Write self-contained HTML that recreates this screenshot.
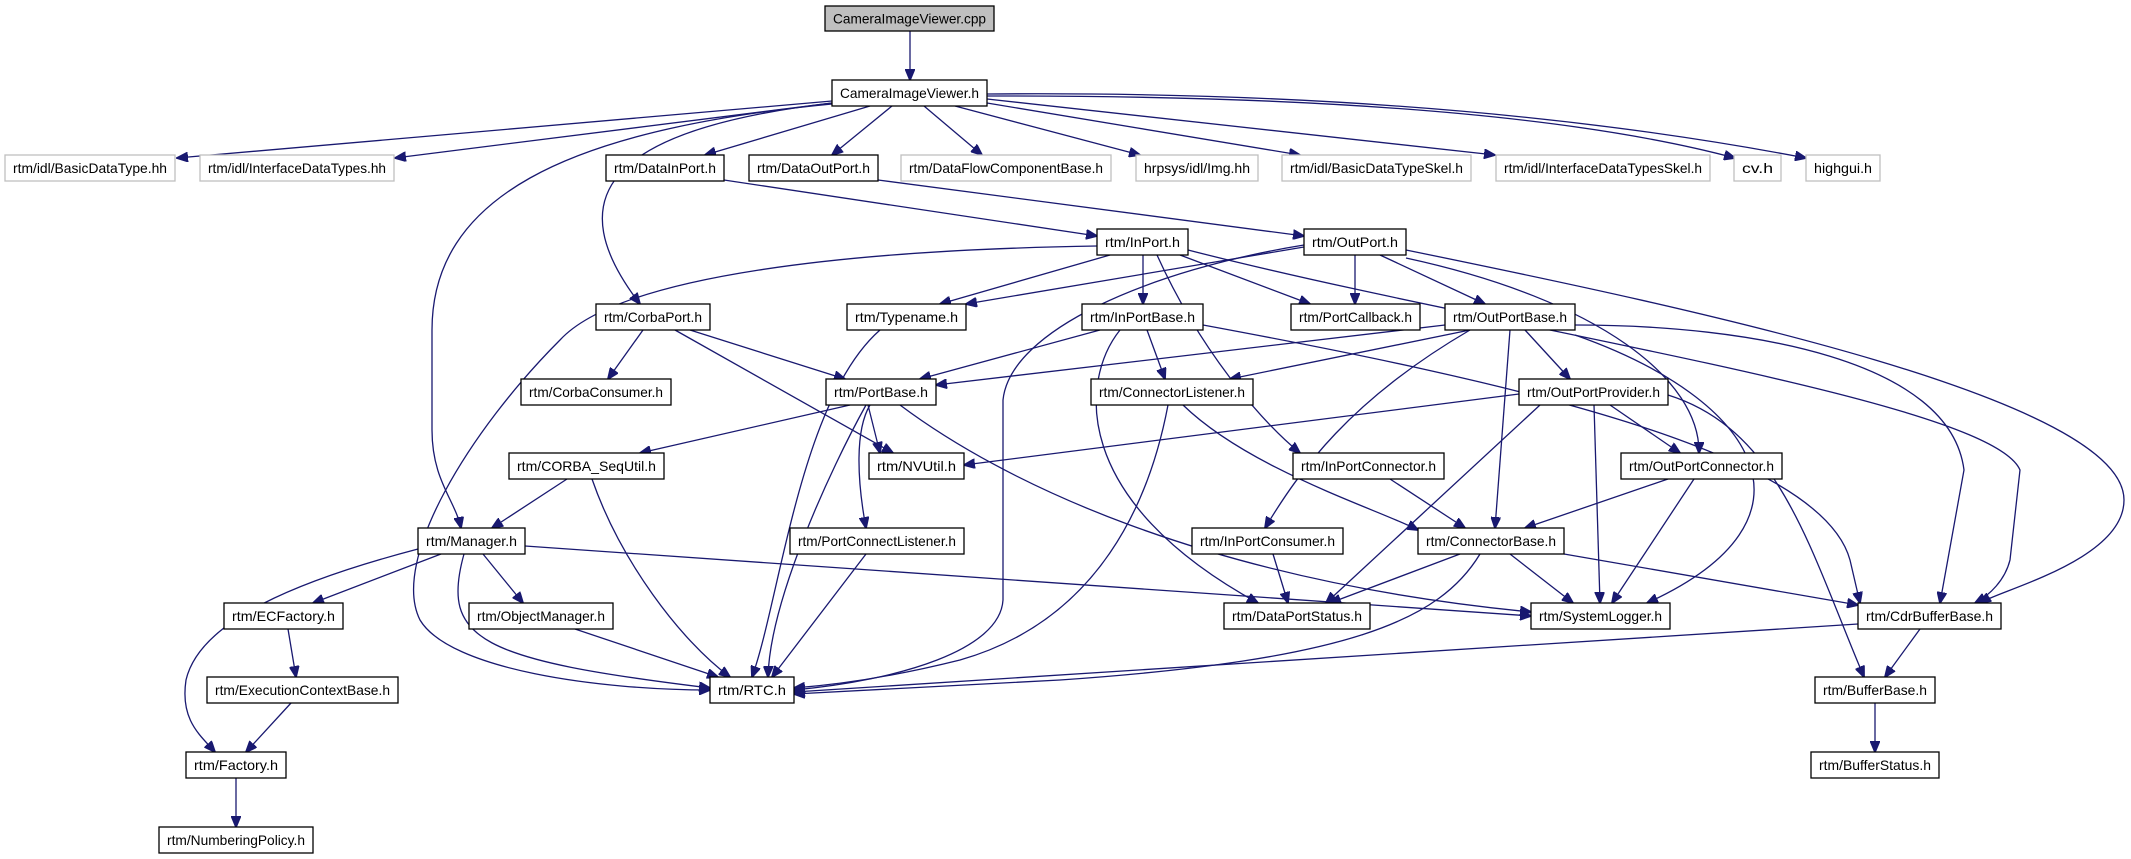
<!DOCTYPE html>
<html><head><meta charset="utf-8"><style>
html,body{margin:0;padding:0;background:#fff;}
svg{display:block;}
text{font-family:"Liberation Sans",sans-serif;font-size:14px;fill:#000;}
.e{fill:none;stroke:#191970;stroke-width:1.3;marker-end:url(#a);}
.n rect{fill:#fff;stroke:#000;stroke-width:1.3;}
.g rect{fill:#fff;stroke:#bfbfbf;stroke-width:1.3;}
</style></head><body>
<svg width="2131" height="859" viewBox="0 0 2131 859" xmlns="http://www.w3.org/2000/svg">
<defs><marker id="a" markerWidth="12" markerHeight="10" refX="11" refY="5" orient="auto" markerUnits="userSpaceOnUse"><path d="M0,0 L12,5 L0,10 z" fill="#191970" stroke="#191970"/></marker></defs>
<g>
<path class="e" d="M910,31 L910,80"/>
<path class="e" d="M832,101 L177,158"/>
<path class="e" d="M832,103 L395,158"/>
<path class="e" d="M870,106 L705,155"/>
<path class="e" d="M892,106 L832,155"/>
<path class="e" d="M924,106 L982,155"/>
<path class="e" d="M955,106 L1140,155"/>
<path class="e" d="M987,103 L1300,155"/>
<path class="e" d="M987,99 L1495,155"/>
<path class="e" d="M987,96 Q1500,95 1735,158"/>
<path class="e" d="M987,94 Q1450,90 1806,158"/>
<path class="e" d="M832,103 C600,130 560,200 640,304"/>
<path class="e" d="M832,104 C560,130 432,200 432,330 L432,430 C432,480 455,500 461,528"/>
<path class="e" d="M724,180 L1097,236"/>
<path class="e" d="M878,180 L1304,236"/>
<path class="e" d="M1110,255 L940,304"/>
<path class="e" d="M1304,247 L966,304"/>
<path class="e" d="M1180,255 L1310,304"/>
<path class="e" d="M1143,255 L1143,304"/>
<path class="e" d="M1157,255 C1200,350 1260,420 1300,453"/>
<path class="e" d="M1097,246 C850,250 620,275 560,340 C470,430 390,560 420,620 C450,670 600,690 710,690"/>
<path class="e" d="M1188,250 C1500,330 1990,400 2020,470 L2010,560 C2005,580 1990,595 1975,603"/>
<path class="e" d="M1355,255 L1355,304"/>
<path class="e" d="M1380,255 L1485,304"/>
<path class="e" d="M1406,258 C1600,300 1700,380 1699,453"/>
<path class="e" d="M1304,245 C1150,270 1010,330 1003,400 L1003,600 C1000,650 900,680 794,690"/>
<path class="e" d="M1406,250 C1700,310 2124,400 2124,500 C2124,560 2000,590 1980,603"/>
<path class="e" d="M1445,325 L936,385"/>
<path class="e" d="M1470,330 L1230,379"/>
<path class="e" d="M1525,330 L1570,379"/>
<path class="e" d="M1510,330 L1495,528"/>
<path class="e" d="M1470,330 C1350,400 1300,470 1265,528"/>
<path class="e" d="M1575,335 C1760,400 1830,520 1647,603"/>
<path class="e" d="M1575,325 C1750,325 1950,360 1964,470 L1940,603"/>
<path class="e" d="M1203,325 C1500,380 1820,450 1850,560 L1860,603"/>
<path class="e" d="M850,405 L640,453"/>
<path class="e" d="M868,405 L880,453"/>
<path class="e" d="M675,330 L893,453"/>
<path class="e" d="M870,405 C855,430 857,480 866,528"/>
<path class="e" d="M866,405 C830,470 770,600 768,677"/>
<path class="e" d="M900,405 C1000,480 1200,580 1531,612"/>
<path class="e" d="M525,546 L1531,616"/>
<path class="e" d="M643,330 L608,379"/>
<path class="e" d="M690,330 L845,379"/>
<path class="e" d="M880,330 C800,400 780,600 752,677"/>
<path class="e" d="M1100,330 L920,379"/>
<path class="e" d="M1147,330 L1165,379"/>
<path class="e" d="M1120,330 C1080,380 1070,500 1258,603"/>
<path class="e" d="M1183,405 C1250,470 1380,510 1418,530"/>
<path class="e" d="M1168,405 C1150,500 1100,620 960,660 C880,680 820,686 794,688"/>
<path class="e" d="M1519,394 L964,465"/>
<path class="e" d="M1610,405 L1680,453"/>
<path class="e" d="M1594,405 L1600,603"/>
<path class="e" d="M1540,405 L1326,603"/>
<path class="e" d="M1668,395 C1780,430 1810,550 1864,677"/>
<path class="e" d="M1390,479 L1465,528"/>
<path class="e" d="M1668,479 L1525,528"/>
<path class="e" d="M1694,479 L1612,603"/>
<path class="e" d="M567,479 L492,528"/>
<path class="e" d="M592,479 C620,560 680,640 730,677"/>
<path class="e" d="M441,554 L313,603"/>
<path class="e" d="M483,554 L523,603"/>
<path class="e" d="M464,554 C440,640 480,660 710,688"/>
<path class="e" d="M418,549 C300,580 200,620 186,680 C180,720 200,735 215,752"/>
<path class="e" d="M288,629 L296,677"/>
<path class="e" d="M291,703 L246,752"/>
<path class="e" d="M236,778 L236,827"/>
<path class="e" d="M575,629 L718,677"/>
<path class="e" d="M866,554 L772,677"/>
<path class="e" d="M1273,554 L1288,603"/>
<path class="e" d="M1460,554 L1330,603"/>
<path class="e" d="M1510,554 L1573,603"/>
<path class="e" d="M1564,554 L1858,605"/>
<path class="e" d="M1480,554 C1440,620 1350,660 1060,680 L794,694"/>
<path class="e" d="M1920,629 L1885,677"/>
<path class="e" d="M1858,624 L794,692"/>
<path class="e" d="M1875,703 L1875,752"/>
</g>
<g text-anchor="middle">
<g><rect x="825" y="6" width="169" height="25" fill="#bfbfbf" stroke="#000" stroke-width="1.3"/><text x="909.5" y="23.5" textLength="153" lengthAdjust="spacingAndGlyphs">CameraImageViewer.cpp</text></g>
<g class="n"><rect x="832" y="80" width="155" height="26"/><text x="909.5" y="98" textLength="139" lengthAdjust="spacingAndGlyphs">CameraImageViewer.h</text></g>
<g class="g"><rect x="5" y="155" width="170" height="26"/><text x="90" y="173" textLength="154" lengthAdjust="spacingAndGlyphs" fill="#000">rtm/idl/BasicDataType.hh</text></g>
<g class="g"><rect x="200" y="155" width="194" height="26"/><text x="297" y="173" textLength="178" lengthAdjust="spacingAndGlyphs">rtm/idl/InterfaceDataTypes.hh</text></g>
<g class="n"><rect x="606" y="155" width="118" height="26"/><text x="665" y="173" textLength="102" lengthAdjust="spacingAndGlyphs">rtm/DataInPort.h</text></g>
<g class="n"><rect x="749" y="155" width="129" height="26"/><text x="813.5" y="173" textLength="113" lengthAdjust="spacingAndGlyphs">rtm/DataOutPort.h</text></g>
<g class="g"><rect x="901" y="155" width="210" height="26"/><text x="1006" y="173" textLength="194" lengthAdjust="spacingAndGlyphs">rtm/DataFlowComponentBase.h</text></g>
<g class="g"><rect x="1136" y="155" width="122" height="26"/><text x="1197" y="173" textLength="106" lengthAdjust="spacingAndGlyphs">hrpsys/idl/Img.hh</text></g>
<g class="g"><rect x="1282" y="155" width="189" height="26"/><text x="1376.5" y="173" textLength="173" lengthAdjust="spacingAndGlyphs">rtm/idl/BasicDataTypeSkel.h</text></g>
<g class="g"><rect x="1496" y="155" width="214" height="26"/><text x="1603" y="173" textLength="198" lengthAdjust="spacingAndGlyphs">rtm/idl/InterfaceDataTypesSkel.h</text></g>
<g class="g"><rect x="1734" y="155" width="47" height="26"/><text x="1757.5" y="173" textLength="31" lengthAdjust="spacingAndGlyphs">cv.h</text></g>
<g class="g"><rect x="1806" y="155" width="74" height="26"/><text x="1843" y="173" textLength="58" lengthAdjust="spacingAndGlyphs">highgui.h</text></g>
<g class="n"><rect x="1097" y="229" width="91" height="26"/><text x="1142.5" y="247" textLength="75" lengthAdjust="spacingAndGlyphs">rtm/InPort.h</text></g>
<g class="n"><rect x="1304" y="229" width="102" height="26"/><text x="1355" y="247" textLength="86" lengthAdjust="spacingAndGlyphs">rtm/OutPort.h</text></g>
<g class="n"><rect x="596" y="304" width="114" height="26"/><text x="653" y="322" textLength="98" lengthAdjust="spacingAndGlyphs">rtm/CorbaPort.h</text></g>
<g class="n"><rect x="847" y="304" width="119" height="26"/><text x="906.5" y="322" textLength="103" lengthAdjust="spacingAndGlyphs">rtm/Typename.h</text></g>
<g class="n"><rect x="1082" y="304" width="121" height="26"/><text x="1142.5" y="322" textLength="105" lengthAdjust="spacingAndGlyphs">rtm/InPortBase.h</text></g>
<g class="n"><rect x="1291" y="304" width="129" height="26"/><text x="1355.5" y="322" textLength="113" lengthAdjust="spacingAndGlyphs">rtm/PortCallback.h</text></g>
<g class="n"><rect x="1445" y="304" width="130" height="26"/><text x="1510" y="322" textLength="114" lengthAdjust="spacingAndGlyphs">rtm/OutPortBase.h</text></g>
<g class="n"><rect x="521" y="379" width="150" height="26"/><text x="596" y="397" textLength="134" lengthAdjust="spacingAndGlyphs">rtm/CorbaConsumer.h</text></g>
<g class="n"><rect x="826" y="379" width="110" height="26"/><text x="881" y="397" textLength="94" lengthAdjust="spacingAndGlyphs">rtm/PortBase.h</text></g>
<g class="n"><rect x="1091" y="379" width="162" height="26"/><text x="1172" y="397" textLength="146" lengthAdjust="spacingAndGlyphs">rtm/ConnectorListener.h</text></g>
<g class="n"><rect x="1519" y="379" width="149" height="26"/><text x="1593.5" y="397" textLength="133" lengthAdjust="spacingAndGlyphs">rtm/OutPortProvider.h</text></g>
<g class="n"><rect x="509" y="453" width="155" height="26"/><text x="586.5" y="471" textLength="139" lengthAdjust="spacingAndGlyphs">rtm/CORBA_SeqUtil.h</text></g>
<g class="n"><rect x="869" y="453" width="95" height="26"/><text x="916.5" y="471" textLength="79" lengthAdjust="spacingAndGlyphs">rtm/NVUtil.h</text></g>
<g class="n"><rect x="1293" y="453" width="151" height="26"/><text x="1368.5" y="471" textLength="135" lengthAdjust="spacingAndGlyphs">rtm/InPortConnector.h</text></g>
<g class="n"><rect x="1621" y="453" width="161" height="26"/><text x="1701.5" y="471" textLength="145" lengthAdjust="spacingAndGlyphs">rtm/OutPortConnector.h</text></g>
<g class="n"><rect x="418" y="528" width="107" height="26"/><text x="471.5" y="546" textLength="91" lengthAdjust="spacingAndGlyphs">rtm/Manager.h</text></g>
<g class="n"><rect x="790" y="528" width="174" height="26"/><text x="877" y="546" textLength="158" lengthAdjust="spacingAndGlyphs">rtm/PortConnectListener.h</text></g>
<g class="n"><rect x="1192" y="528" width="151" height="26"/><text x="1267.5" y="546" textLength="135" lengthAdjust="spacingAndGlyphs">rtm/InPortConsumer.h</text></g>
<g class="n"><rect x="1418" y="528" width="146" height="26"/><text x="1491" y="546" textLength="130" lengthAdjust="spacingAndGlyphs">rtm/ConnectorBase.h</text></g>
<g class="n"><rect x="224" y="603" width="119" height="26"/><text x="283.5" y="621" textLength="103" lengthAdjust="spacingAndGlyphs">rtm/ECFactory.h</text></g>
<g class="n"><rect x="469" y="603" width="144" height="26"/><text x="541" y="621" textLength="128" lengthAdjust="spacingAndGlyphs">rtm/ObjectManager.h</text></g>
<g class="n"><rect x="1224" y="603" width="146" height="26"/><text x="1297" y="621" textLength="130" lengthAdjust="spacingAndGlyphs">rtm/DataPortStatus.h</text></g>
<g class="n"><rect x="1531" y="603" width="139" height="26"/><text x="1600.5" y="621" textLength="123" lengthAdjust="spacingAndGlyphs">rtm/SystemLogger.h</text></g>
<g class="n"><rect x="1858" y="603" width="143" height="26"/><text x="1929.5" y="621" textLength="127" lengthAdjust="spacingAndGlyphs">rtm/CdrBufferBase.h</text></g>
<g class="n"><rect x="207" y="677" width="191" height="26"/><text x="302.5" y="695" textLength="175" lengthAdjust="spacingAndGlyphs">rtm/ExecutionContextBase.h</text></g>
<g class="n"><rect x="710" y="677" width="84" height="26"/><text x="752" y="695" textLength="68" lengthAdjust="spacingAndGlyphs">rtm/RTC.h</text></g>
<g class="n"><rect x="1815" y="677" width="120" height="26"/><text x="1875" y="695" textLength="104" lengthAdjust="spacingAndGlyphs">rtm/BufferBase.h</text></g>
<g class="n"><rect x="186" y="752" width="100" height="26"/><text x="236" y="770" textLength="84" lengthAdjust="spacingAndGlyphs">rtm/Factory.h</text></g>
<g class="n"><rect x="1811" y="752" width="128" height="26"/><text x="1875" y="770" textLength="112" lengthAdjust="spacingAndGlyphs">rtm/BufferStatus.h</text></g>
<g class="n"><rect x="159" y="827" width="154" height="26"/><text x="236" y="845" textLength="138" lengthAdjust="spacingAndGlyphs">rtm/NumberingPolicy.h</text></g>
</g>
</svg>
</body></html>
